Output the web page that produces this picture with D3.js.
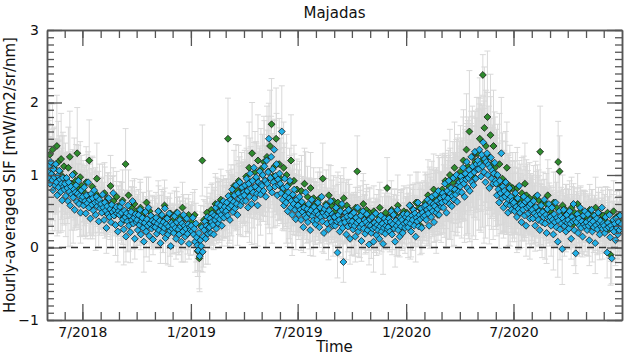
<!DOCTYPE html>
<html>
<head>
<meta charset="utf-8">
<script src="https://cdn.jsdelivr.net/npm/d3@7"></script>
<style>
 body { margin:0; background:#fff; }
 svg { display:block; font-family:"DejaVu Sans", sans-serif; }
</style>
</head>
<body>
<div id="chart"></div>
<script>
// months of data (first month starts on May 3)
var months = ["2018-05","2018-06","2018-07","2018-08","2018-09","2018-10","2018-11","2018-12",
              "2019-01","2019-02","2019-03","2019-04","2019-05","2019-06","2019-07","2019-08",
              "2019-09","2019-10","2019-11","2019-12","2020-01","2020-02","2020-03","2020-04",
              "2020-05","2020-06","2020-07","2020-08","2020-09","2020-10","2020-11","2020-12"];

// blue series, SIF in hundredths of mW/m2/sr/nm, one row per month
var blueSif = [
 [104,112,96,88,118,101,93,79,108,97,86,115,90,72,99,83,106,94,77,88,65,96,84,80],
 [88,71,96,82,64,90,77,58,84,73,100,69,80,52,76,86,63,74,92,60,71,48,79,66],
 [70,58,83,64,47,72,61,90,55,66,40,74,59,68,51,79,62,45,70,57,63,36,66,54],
 [60,48,73,55,38,62,51,27,57,46,68,42,53,35,59,49,75,44,52,31,56,47,22,50],
 [45,56,33,48,62,39,25,51,42,15,47,36,58,30,44,21,49,38,64,33,41,12,46,35],
 [38,24,45,31,52,18,36,41,27,8,34,49,22,39,30,55,16,33,44,26,37,11,29,35],
 [28,41,19,33,50,24,37,6,30,45,21,35,27,54,13,32,40,18,29,47,23,2,34,26],
 [31,20,43,27,12,35,48,25,18,38,29,8,33,22,45,30,15,26,40,19,32,5,28,24],
 [30,22,41,18,26,8,33,14,3,-4,20,-12,10,2,28,-6,15,24,36,12,30,42,19,27],
 [28,40,20,35,47,31,18,44,38,55,26,42,60,33,49,39,58,45,30,52,64,41,56,48],
 [50,62,44,71,55,38,66,58,80,49,63,72,54,86,60,45,75,67,90,58,70,83,64,76],
 [72,86,64,95,78,55,88,70,102,81,60,92,76,110,68,84,97,74,58,90,80,105,73,87],
 [85,100,78,112,92,70,120,88,104,150,82,96,125,76,108,90,135,84,99,115,72,94,86,102],
 [88,75,160,66,82,58,95,71,62,84,50,76,68,92,55,64,45,73,60,80,52,39,66,57],
 [58,46,70,52,38,63,49,28,55,44,76,41,53,35,60,47,24,51,66,43,37,56,48,32],
 [50,38,62,45,28,55,42,70,36,48,20,53,44,58,33,47,25,51,40,64,35,46,30,43],
 [42,30,55,36,-7,45,38,22,50,33,60,27,-20,40,35,48,18,43,29,52,37,12,44,31],
 [36,25,48,30,15,41,34,55,22,37,28,44,9,32,50,26,38,19,35,46,24,31,4,39],
 [30,20,42,26,8,34,28,47,17,31,24,38,12,29,44,22,33,5,27,40,19,30,36,25],
 [28,40,22,35,50,18,32,45,26,8,37,30,52,24,34,15,41,29,38,20,46,33,27,42],
 [35,46,28,40,58,33,22,44,38,52,30,47,15,41,36,62,29,45,39,54,27,48,42,57],
 [44,58,38,52,66,47,30,55,62,42,70,50,60,35,57,73,48,64,53,78,45,61,68,56],
 [62,75,55,70,88,64,48,78,68,92,60,74,82,57,71,96,66,80,73,100,63,86,77,90],
 [84,98,76,92,110,88,70,102,94,118,82,96,107,78,100,125,90,112,86,104,132,95,115,108],
 [120,108,135,115,98,128,112,145,104,122,90,118,130,100,114,82,110,124,95,106,88,102,117,92],
 [88,72,100,80,62,92,75,130,68,84,55,78,70,90,60,74,48,66,82,58,70,52,64,60],
 [62,50,75,56,42,68,53,85,48,60,35,58,52,70,44,63,30,55,66,47,57,40,60,50],
 [52,40,64,47,30,56,44,72,38,50,24,46,58,35,49,42,66,33,45,20,53,41,60,37],
 [42,30,55,38,18,46,35,62,28,41,8,37,50,25,43,33,-2,40,52,30,36,22,45,34],
 [38,26,50,33,12,42,36,60,24,38,-8,35,46,20,40,30,55,27,36,15,44,32,50,29],
 [35,24,46,30,10,38,33,52,22,36,28,44,6,31,40,25,48,34,18,37,29,55,26,33],
 [30,20,42,26,-7,34,28,45,14,30,-15,25,38,22,33,10,40,27,18,35,24,44,29,32]
];

// blue series, error half-length in steps of 0.07
var blueErr = [
 [7,9,6,8,5,7,10,6,8,7,9,5,6,8,7,9,6,5,8,7,6,9,5,7],
 [6,8,5,7,9,6,5,8,6,7,5,9,6,4,7,8,5,6,7,5,8,6,4,7],
 [5,6,4,7,5,8,4,6,5,7,4,5,6,8,5,4,6,7,5,4,6,5,7,4],
 [5,4,6,5,3,7,4,5,6,4,5,3,6,5,4,7,5,4,3,6,5,4,6,5],
 [4,5,3,6,4,5,7,4,3,5,4,6,3,5,4,6,5,3,4,5,6,4,3,5],
 [4,3,5,4,6,3,4,5,3,6,4,3,5,4,3,6,5,4,3,4,5,3,4,5],
 [4,5,3,4,6,3,5,4,3,5,4,6,3,4,5,3,4,6,4,3,5,4,3,5],
 [3,4,5,3,4,6,3,5,4,3,5,4,3,6,4,3,5,4,3,4,5,3,4,5],
 [4,3,5,4,3,6,4,3,5,4,3,7,4,5,3,4,6,3,4,5,3,4,6,3],
 [4,5,3,4,6,4,3,5,4,6,3,4,5,3,6,4,5,3,4,6,5,4,3,5],
 [5,4,6,5,7,4,5,6,4,7,5,6,4,8,5,6,4,7,5,6,4,5,7,6],
 [6,5,7,6,8,5,6,9,7,5,8,6,7,5,9,6,7,5,8,6,7,5,8,6],
 [7,8,6,9,7,10,6,8,11,7,9,6,8,10,7,9,6,8,7,10,6,8,7,9],
 [7,6,9,6,8,5,7,6,8,5,7,6,8,5,7,6,8,5,6,7,5,6,7,5],
 [6,5,7,5,6,4,7,5,6,4,8,5,6,4,5,7,5,6,4,5,7,5,6,4],
 [5,4,6,5,4,7,5,4,6,5,4,6,5,7,4,5,6,4,5,7,4,5,6,4],
 [5,4,6,4,5,6,4,5,7,4,5,6,4,5,4,6,5,4,5,6,4,5,4,6],
 [4,5,4,6,5,4,6,4,5,4,6,5,4,5,6,4,5,4,6,5,4,5,4,6],
 [4,5,3,4,6,4,5,3,4,5,4,6,3,4,5,4,3,6,4,5,3,4,5,4],
 [4,5,4,3,6,4,5,4,3,5,4,6,4,5,3,4,5,4,6,3,5,4,5,4],
 [5,4,6,5,4,7,5,4,6,5,4,6,5,4,5,6,4,5,7,4,5,6,4,5],
 [5,6,4,7,5,6,4,8,5,6,7,5,6,4,7,5,8,6,5,7,4,6,5,7],
 [6,7,5,8,6,9,7,6,8,5,7,9,6,8,7,5,9,6,8,7,6,10,7,8],
 [8,7,9,8,10,7,9,8,11,7,9,12,8,10,7,9,13,8,10,9,8,12,9,10],
 [10,12,9,13,11,10,12,9,14,10,11,8,12,10,9,11,8,12,10,9,11,8,10,9],
 [9,8,10,7,9,6,8,11,7,9,6,8,7,10,6,8,7,9,6,8,7,5,8,6],
 [7,6,8,5,7,6,8,5,7,6,5,7,6,8,5,7,6,5,7,6,5,8,6,7],
 [6,5,7,6,5,7,4,6,5,7,4,6,5,7,5,6,4,7,5,6,4,5,7,5],
 [5,6,4,5,7,4,5,6,4,5,7,5,4,6,5,4,7,5,4,6,5,4,6,5],
 [5,4,6,5,4,6,5,4,7,5,4,6,5,4,5,6,4,5,6,4,5,6,4,5],
 [4,5,4,6,5,4,5,4,6,4,5,4,6,5,4,5,4,6,5,4,5,4,6,4],
 [5,4,6,4,5,4,6,5,4,7,5,4,5,6,4,5,4,6,5,4,5,4,6,5]
];

// green series, SIF in hundredths
var greenSif = [
 [115,128,102,135,110,95,140,118,105,122,98,112],
 [95,82,110,125,88,76,102,92,130,80,97,85],
 [78,65,90,72,120,68,84,60,75,95,70,62],
 [62,55,75,48,68,58,85,52,64,45,70,57],
 [52,45,65,38,115,48,72,42,55,35,60,50],
 [45,38,55,30,48,40,62,35,50,28,42,36],
 [40,32,50,25,44,36,58,28,42,20,47,34],
 [38,30,48,22,42,35,55,26,40,18,45,32],
 [35,28,45,8,-5,-15,30,120,38,25,48,33],
 [40,52,32,48,60,38,55,45,66,50,42,58],
 [60,150,55,72,65,85,58,78,92,70,82,75],
 [85,98,76,110,90,130,82,104,95,120,88,108],
 [100,118,92,125,105,140,170,98,112,150,95,115],
 [95,82,110,75,100,68,88,120,72,92,65,80],
 [65,55,78,60,88,50,70,58,82,52,68,60],
 [55,48,68,52,95,45,60,50,72,42,58,64],
 [50,42,62,45,55,38,68,48,58,40,52,46],
 [45,38,55,105,42,50,35,60,44,52,38,48],
 [40,32,50,28,45,36,55,30,42,25,48,82],
 [42,35,52,30,46,38,58,33,44,28,50,40],
 [48,40,58,35,52,44,62,38,55,30,50,45],
 [62,55,72,48,66,58,80,52,68,45,75,60],
 [80,72,92,68,85,100,76,90,110,82,95,88],
 [105,95,120,100,135,112,160,108,125,98,118,130],
 [130,150,120,238,165,140,180,125,155,115,140,110],
 [100,88,115,80,95,72,90,110,78,85,68,82],
 [70,62,82,60,66,75,58,88,72,64,68,55],
 [58,50,70,55,65,132,52,62,48,60,72,54],
 [50,44,62,40,55,118,105,48,58,38,52,46],
 [45,38,55,32,48,40,60,35,50,30,44,42],
 [42,35,52,30,45,38,55,33,48,28,40,44],
 [38,30,48,25,-10,35,50,28,42,22,45,36]
];

// green series, error half-length in steps of 0.07
var greenErr = [
 [8,10,7,9,8,7,10,8,7,9,8,6],
 [7,6,8,9,6,5,7,6,9,5,7,6],
 [6,5,7,5,8,5,6,4,5,7,5,4],
 [5,4,6,4,5,4,6,4,5,3,5,4],
 [4,5,6,3,7,4,5,3,4,3,5,4],
 [4,3,5,3,4,3,5,3,4,3,4,3],
 [4,3,5,3,4,3,5,3,4,3,4,3],
 [3,4,5,3,4,3,5,3,4,3,4,3],
 [4,3,5,4,5,6,4,7,4,3,5,4],
 [4,5,3,5,6,4,5,4,6,5,4,5],
 [5,8,5,6,5,7,5,6,7,6,7,6],
 [7,8,6,9,7,10,6,8,7,9,7,8],
 [8,9,7,10,8,11,9,8,9,10,7,9],
 [8,7,9,6,8,6,7,9,6,7,5,6],
 [6,5,7,5,7,4,6,5,7,4,6,5],
 [5,4,6,5,7,4,5,4,6,4,5,5],
 [5,4,6,4,5,4,6,4,5,4,5,4],
 [4,5,4,7,4,5,4,6,4,5,4,5],
 [4,3,5,3,4,4,5,3,4,3,5,6],
 [4,5,4,3,5,4,6,4,5,3,5,4],
 [5,4,6,4,5,4,6,4,5,4,5,5],
 [6,5,7,5,6,5,7,5,6,5,7,6],
 [7,6,8,6,7,9,6,8,9,7,8,7],
 [9,8,10,9,11,9,12,9,10,8,10,11],
 [11,12,10,4,12,11,13,10,12,9,11,10],
 [9,8,10,7,9,7,8,9,7,8,6,7],
 [7,6,8,6,7,7,6,8,7,6,7,5],
 [6,5,7,6,6,9,5,6,5,6,7,5],
 [5,5,6,4,5,8,7,5,6,4,5,5],
 [5,4,6,4,5,4,6,4,5,4,5,5],
 [4,4,5,4,5,4,6,4,5,4,4,5],
 [5,4,5,4,6,4,6,4,5,4,5,4]
];
var errStep = 0.07;

var xMajorTicks = ["2018-07-01","2019-01-01","2019-07-01","2020-01-01","2020-07-01"];
var xTickLabels = ["7/2018","1/2019","7/2019","1/2020","7/2020"];
var yMajorTicks = [-1,0,1,2,3];

var W = 624, H = 356;
var mLeft = 47, mRight = 622, mTop = 30, mBottom = 320;

var parse = d3.timeParse("%Y-%m-%d");
var x = d3.scaleTime()
    .domain([parse("2018-05-02"), parse("2021-01-01")])
    .range([mLeft, mRight]);
var y = d3.scaleLinear()
    .domain([-1, 3])
    .range([mBottom, mTop]);

// spread each month's values over that month
function toPoints(vals, errs) {
  var pts = [];
  months.forEach(function (m, k) {
    var start = parse(m + "-01");
    var end = d3.timeMonth.offset(start, 1);
    if (k == 0) start = parse("2018-05-03");
    var n = vals[k].length;
    vals[k].forEach(function (v, i) {
      var t = new Date(+start + (i + 0.5) / n * (end - start));
      pts.push({t: t, v: v / 100, e: errs[k][i] * errStep});
    });
  });
  return pts;
}
var bluePts = toPoints(blueSif, blueErr);
var greenPts = toPoints(greenSif, greenErr);

var svg = d3.select("#chart").append("svg")
    .attr("width", W).attr("height", H);

svg.append("clipPath").attr("id", "clip")
  .append("rect").attr("x", mLeft).attr("y", mTop)
  .attr("width", mRight - mLeft).attr("height", mBottom - mTop);
var inner = svg.append("g").attr("clip-path", "url(#clip)");

// error bars (gray, with caps)
var errColor = "#d9d9d9";
var allPts = greenPts.concat(bluePts);
var eb = inner.append("g").attr("stroke", errColor).attr("stroke-width", 1);
allPts.forEach(function (d) {
  var px = x(d.t), y1 = y(d.v + d.e), y0 = y(d.v - d.e);
  eb.append("line").attr("x1", px).attr("x2", px).attr("y1", y1).attr("y2", y0);
  eb.append("line").attr("x1", px - 3).attr("x2", px + 3).attr("y1", y1).attr("y2", y1);
  eb.append("line").attr("x1", px - 3).attr("x2", px + 3).attr("y1", y0).attr("y2", y0);
});

// zero line
inner.append("line")
    .attr("x1", mLeft).attr("x2", mRight)
    .attr("y1", y(0)).attr("y2", y(0))
    .attr("stroke", "#333").attr("stroke-width", 1.3)
    .attr("stroke-dasharray", "7,5");

var diamond = d3.symbol().type(d3.symbolSquare).size(24);

function drawPts(pts, fill) {
  inner.append("g").selectAll("path")
    .data(pts)
    .enter()
    .append("path")
    .attr("d", diamond)
    .attr("transform", function (d) { return "translate(" + x(d.t) + "," + y(d.v) + ") rotate(45)"; })
    .attr("fill", fill)
    .attr("stroke", "#111")
    .attr("stroke-width", 0.7);
}
drawPts(greenPts, "#2e8b2e");
drawPts(bluePts, "#22b0e6");

// axes
var axisColor = "#555";
var monthTicks = d3.timeMonth.range(x.domain()[0], x.domain()[1]);
var majorDates = xMajorTicks.map(parse);
var yMinor = d3.range(-10, 31).map(function (k) { return k / 10; });

function styleAxis(g) {
  g.selectAll("path").attr("stroke", axisColor).attr("stroke-width", 1.5);
  g.selectAll("line").attr("stroke", axisColor).attr("stroke-width", 1.3);
  g.selectAll("text").attr("fill", "#111").style("font-size", "14px")
    .style("font-family", "DejaVu Sans, sans-serif");
}

svg.append("g").attr("transform", "translate(0," + mBottom + ")")
  .call(d3.axisBottom(x).tickValues(monthTicks).tickSize(-8).tickSizeOuter(0).tickFormat(""))
  .call(styleAxis);
svg.append("g").attr("transform", "translate(0," + mBottom + ")")
  .call(d3.axisBottom(x).tickValues(majorDates).tickSize(-16).tickSizeOuter(0).tickPadding(7)
        .tickFormat(function (d, i) { return xTickLabels[i]; }))
  .call(styleAxis);
svg.append("g").attr("transform", "translate(0," + mTop + ")")
  .call(d3.axisTop(x).tickValues(monthTicks).tickSize(-8).tickSizeOuter(0).tickFormat(""))
  .call(styleAxis);
svg.append("g").attr("transform", "translate(0," + mTop + ")")
  .call(d3.axisTop(x).tickValues(majorDates).tickSize(-16).tickSizeOuter(0).tickFormat(""))
  .call(styleAxis);

svg.append("g").attr("transform", "translate(" + mLeft + ",0)")
  .call(d3.axisLeft(y).tickValues(yMinor).tickSize(-7).tickSizeOuter(0).tickFormat(""))
  .call(styleAxis);
svg.append("g").attr("transform", "translate(" + mLeft + ",0)")
  .call(d3.axisLeft(y).tickValues(yMajorTicks).tickSize(-15).tickSizeOuter(0).tickPadding(8)
        .tickFormat(d3.format("d")))
  .call(styleAxis);
svg.append("g").attr("transform", "translate(" + mRight + ",0)")
  .call(d3.axisRight(y).tickValues(yMinor).tickSize(-7).tickSizeOuter(0).tickFormat(""))
  .call(styleAxis);
svg.append("g").attr("transform", "translate(" + mRight + ",0)")
  .call(d3.axisRight(y).tickValues(yMajorTicks).tickSize(-15).tickSizeOuter(0).tickFormat(""))
  .call(styleAxis);

// titles
svg.append("text").attr("x", (mLeft + mRight) / 2).attr("y", 18)
  .attr("text-anchor", "middle").style("font-size", "15px").attr("fill", "#111")
  .text("Majadas");
svg.append("text").attr("x", (mLeft + mRight) / 2).attr("y", 352)
  .attr("text-anchor", "middle").style("font-size", "15px").attr("fill", "#111")
  .text("Time");
svg.append("text")
  .attr("transform", "translate(15," + ((mTop + mBottom) / 2) + ") rotate(-90)")
  .attr("text-anchor", "middle").style("font-size", "15px").attr("fill", "#111")
  .text("Hourly-averaged SIF [mW/m2/sr/nm]");
svg.append("text").attr("x", 53).attr("y", 365)
  .style("font-size", "13px").attr("fill", "#e2e2e2")
  .text("TROPOMI SIF");
</script>
</body>
</html>
